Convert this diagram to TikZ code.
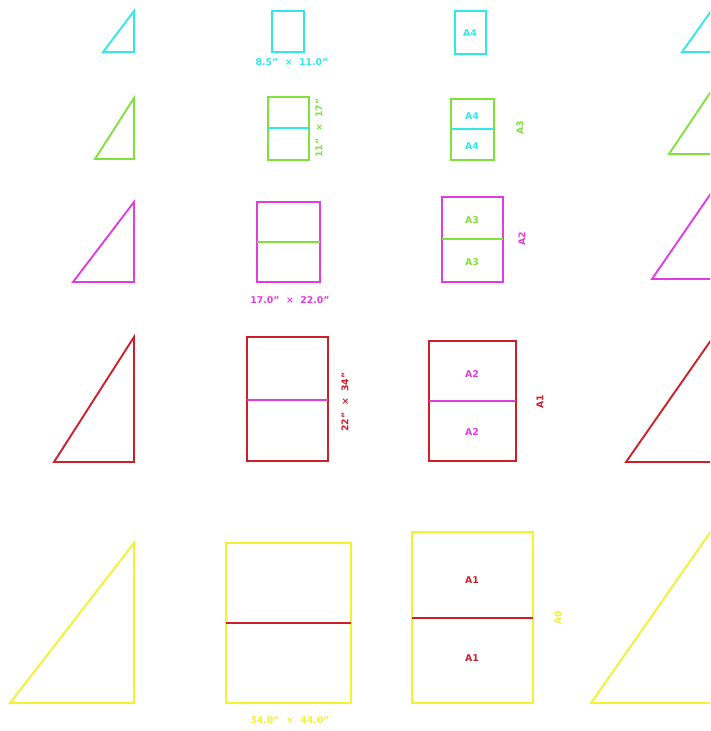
\documentclass[tikz,border=0pt]{standalone}
\usepackage{fontspec}
\setmainfont{DejaVu Sans}
\definecolor{cadcyan}{HTML}{30E8E8}
\definecolor{cadgreen}{HTML}{80E03C}
\definecolor{cadmagenta}{HTML}{E03CE0}
\definecolor{cadred}{HTML}{CC1F2A}
\definecolor{cadyellow}{HTML}{F2F230}
\begin{document}
\begin{tikzpicture}[x=0.75pt,y=-0.75pt,
      every node/.style={font=\fontsize{7}{8}\selectfont\bfseries,inner sep=0pt},
      sheet/.style={line width=1.4pt},
      tag/.style={rotate=90},
    ]
  \clip (0,0) rectangle (710,731);

  % left column of triangles
  \draw[sheet,cadcyan] (134,11) -- (134,52) -- (103,52) -- cycle;
  \draw[sheet,cadgreen] (134,98) -- (134,159) -- (95,159) -- cycle;
  \draw[sheet,cadmagenta] (134,202) -- (134,282) -- (73,282) -- cycle;
  \draw[sheet,cadred] (134,337) -- (134,462) -- (54,462) -- cycle;
  \draw[sheet,cadyellow] (134,543) -- (134,703) -- (10,703) -- cycle;

  % US sheets
  \draw[sheet,cadcyan] (272,11) rectangle (304,52);
  \node[text=cadcyan] (ansiA) at (292,62) {8.5" \ × \ 11.0"};

  \draw[sheet,cadgreen] (268,97) rectangle (309,160);
  \draw[sheet,cadcyan] (268,128) -- (309,128);
  \node[text=cadgreen,tag] (ansiB) at (319,128) {11" \ × \ 17"};

  \draw[sheet,cadmagenta] (257,202) rectangle (320,282);
  \draw[sheet,cadgreen] (257,242) -- (320,242);
  \node[text=cadmagenta] (ansiC) at (290,300) {17.0" \ × \ 22.0"};

  \draw[sheet,cadred] (247,337) rectangle (328,461);
  \draw[sheet,cadmagenta] (247,400) -- (328,400);
  \node[text=cadred,tag] (ansiD) at (345,402) {22" \ × \ 34"};

  \draw[sheet,cadyellow] (226,543) rectangle (351,703);
  \draw[sheet,cadred] (226,623) -- (351,623);
  \node[text=cadyellow] (ansiE) at (290,720) {34.0" \ × \ 44.0"};

  % ISO sheets
  \draw[sheet,cadcyan] (455,11) rectangle (486,54);
  \node[text=cadcyan] (isoA4) at (470,33) {A4};

  \draw[sheet,cadgreen] (451,99) rectangle (494,160);
  \draw[sheet,cadcyan] (451,129) -- (494,129);
  \node[text=cadcyan] (isoA3t) at (472,116) {A4};
  \node[text=cadcyan] (isoA3b) at (472,146) {A4};
  \node[text=cadgreen,tag] (isoA3) at (520,128) {A3};

  \draw[sheet,cadmagenta] (442,197) rectangle (503,282);
  \draw[sheet,cadgreen] (442,239) -- (503,239);
  \node[text=cadgreen] (isoA2t) at (472,220) {A3};
  \node[text=cadgreen] (isoA2b) at (472,262) {A3};
  \node[text=cadmagenta,tag] (isoA2) at (522,239) {A2};

  \draw[sheet,cadred] (429,341) rectangle (516,461);
  \draw[sheet,cadmagenta] (429,401) -- (516,401);
  \node[text=cadmagenta] (isoA1t) at (472,374) {A2};
  \node[text=cadmagenta] (isoA1b) at (472,432) {A2};
  \node[text=cadred,tag] (isoA1) at (540,402) {A1};

  \draw[sheet,cadyellow] (412,532) rectangle (533,703);
  \draw[sheet,cadred] (412,618) -- (533,618);
  \node[text=cadred] (isoA0t) at (472,580) {A1};
  \node[text=cadred] (isoA0b) at (472,658) {A1};
  \node[text=cadyellow,tag] (isoA0) at (558,618) {A0};

  % right column of triangles, cut by the edge
  \draw[sheet,cadcyan] (716,4) -- (716,52) -- (682,52) -- cycle;
  \draw[sheet,cadgreen] (716,84) -- (716,154) -- (669,154) -- cycle;
  \draw[sheet,cadmagenta] (716,186) -- (716,279) -- (652,279) -- cycle;
  \draw[sheet,cadred] (716,333) -- (716,462) -- (626,462) -- cycle;
  \draw[sheet,cadyellow] (716,524) -- (716,703) -- (591,703) -- cycle;
\end{tikzpicture}
\end{document}
